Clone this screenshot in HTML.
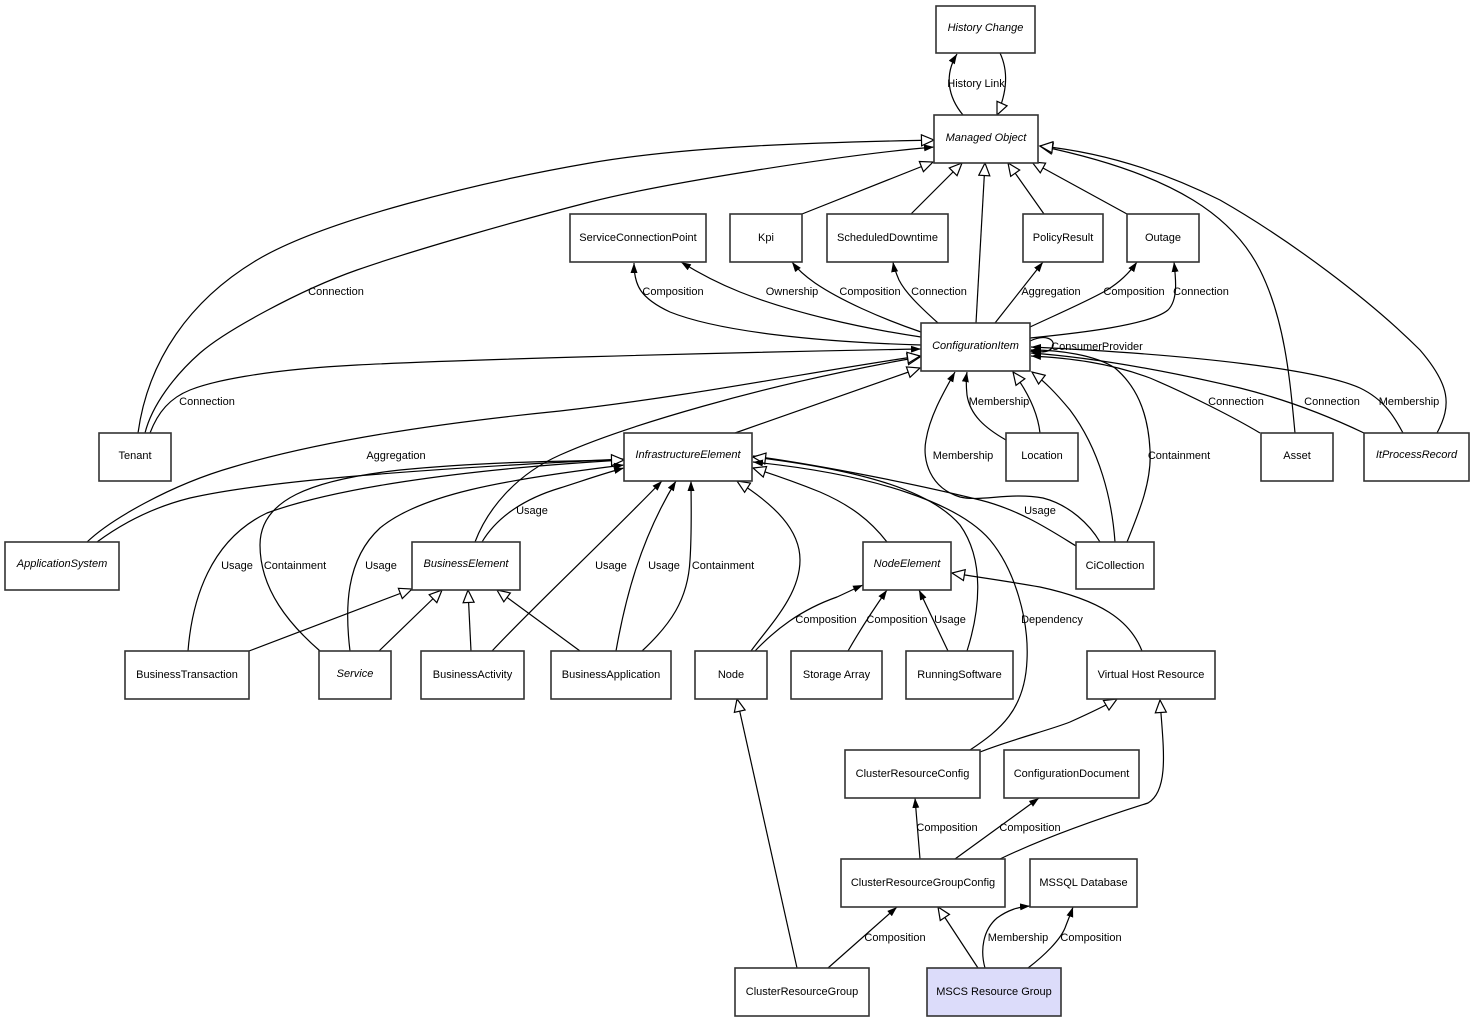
<!DOCTYPE html>
<html><head><meta charset="utf-8"><style>
html,body{margin:0;padding:0;background:#fff;}
svg{display:block;}
text{font-family:"Liberation Sans",Arial,sans-serif;font-size:11px;fill:#000;}
.e{fill:none;stroke:#000;stroke-width:1.2;}
.f{marker-end:url(#fa);}
.h{marker-end:url(#ha);}
.b{fill:#fff;stroke:#333;stroke-width:1.6;}
.i{font-style:italic;}
</style></head><body>
<svg width="1475" height="1023" viewBox="0 0 1475 1023" xmlns="http://www.w3.org/2000/svg">
<defs>
<marker id="fa" markerUnits="userSpaceOnUse" markerWidth="11" markerHeight="9" refX="10" refY="4.5" orient="auto"><path d="M0,1 L10,4.5 L0,8 z" fill="#000"/></marker>
<marker id="ha" markerUnits="userSpaceOnUse" markerWidth="15" markerHeight="13" refX="13.5" refY="6.5" orient="auto"><path d="M1,1 L13.5,6.5 L1,12 z" fill="#fff" stroke="#000" stroke-width="1.2"/></marker>
</defs>

<!-- edges -->
<path class="e f" d="M963,115 C948,97 944,75 957,54"/>
<path class="e h" d="M1000,53 C1008,70 1008,90 997,115"/>

<path class="e h" d="M138,433 C148,360 190,300 257,260 S480,182 590,163 S850,142 934,140"/>
<path class="e f" d="M145,433 C152,405 175,375 200,353 S300,290 357,270 S520,220 590,202 S840,155 934,147"/>
<path class="e f" d="M150,433 C158,412 170,398 190,390 S260,370 357,365 S700,353 921,349"/>

<path class="e h" d="M802,214 L933,162"/>
<path class="e h" d="M911,214 L962,163"/>
<path class="e h" d="M976,323 L985,163"/>
<path class="e h" d="M1044,214 L1008,163"/>
<path class="e h" d="M1127,214 L1032,162"/>
<path class="e h" d="M1295,433 C1290,380 1285,320 1260,270 S1180,175 1040,146"/>
<path class="e h" d="M1437,433 C1452,405 1450,385 1420,350 C1370,300 1290,240 1220,200 C1160,170 1100,152 1040,146"/>

<path class="e f" d="M921,345 C820,342 720,332 670,312 C640,298 634,285 634,263"/>
<path class="e f" d="M921,337 C860,328 790,312 740,292 C715,282 697,272 681,262"/>
<path class="e f" d="M921,332 C880,318 840,300 815,283 C805,276 798,270 792,262"/>
<path class="e f" d="M938,323 C918,305 905,292 899,280 C896,273 894,268 893,262"/>
<path class="e f" d="M995,323 L1043,262"/>
<path class="e f" d="M1030,327 C1060,313 1090,300 1107,290 C1120,282 1130,272 1137,262"/>
<path class="e f" d="M1030,338 C1080,333 1150,325 1168,310 C1178,300 1176,280 1174,262"/>
<path class="e f" d="M1030,341 C1045,334 1055,339 1053,346 C1051,352 1043,353 1030,351"/>

<path class="e f" d="M1127,542 C1140,510 1152,480 1150,450 C1148,410 1135,385 1115,368 C1095,355 1060,350 1031,350"/>
<path class="e f" d="M1260,433 C1235,418 1190,395 1150,378 C1110,363 1070,358 1031,356"/>
<path class="e f" d="M1364,433 C1320,412 1280,398 1240,388 C1180,374 1100,358 1031,353"/>
<path class="e f" d="M1403,433 C1395,418 1385,400 1360,388 C1320,370 1200,355 1031,347"/>

<path class="e f" d="M1006,440 C985,428 970,415 967,395 C966,385 966,378 967,372"/>
<path class="e h" d="M1040,433 C1038,415 1030,395 1013,372"/>
<path class="e h" d="M1115,542 C1112,500 1100,450 1070,410 C1055,392 1045,382 1032,372"/>
<path class="e f" d="M1100,542 C1090,525 1070,505 1043,498 C1010,492 980,502 960,497 C930,488 922,460 926,440 C930,415 945,390 955,372"/>
<path class="e f" d="M1076,546 C1050,530 1020,510 980,500 C920,485 820,465 753,456"/>

<path class="e h" d="M735,433 L920,368"/>
<path class="e h" d="M475,542 C487,510 515,475 560,455 C620,428 760,385 920,357"/>
<path class="e h" d="M87,542 C110,520 170,485 233,467 C300,447 400,427 560,411 C700,395 820,370 920,356"/>
<path class="e f" d="M97,542 C120,525 150,508 190,498 C260,482 400,470 624,459"/>
<path class="e f" d="M188,651 C192,600 210,540 267,513 C330,490 450,470 624,460"/>
<path class="e h" d="M320,651 C290,625 260,590 260,545 C260,500 310,480 400,470 C480,462 560,461 624,460"/>
<path class="e f" d="M350,651 C345,610 345,560 380,528 C420,495 500,480 624,465"/>
<path class="e f" d="M482,542 C495,520 520,500 560,488 C585,480 605,473 624,468"/>

<path class="e h" d="M249,651 L412,589"/>
<path class="e h" d="M379,651 L442,590"/>
<path class="e h" d="M471,651 L468,590"/>
<path class="e h" d="M580,651 L497,590"/>

<path class="e f" d="M492,651 C540,600 600,545 662,481"/>
<path class="e f" d="M616,651 C625,600 640,540 676,481"/>
<path class="e f" d="M642,651 C670,625 688,600 690,560 C692,530 691,500 691,481"/>
<path class="e h" d="M751,651 C770,625 800,595 800,560 C800,530 775,505 737,481"/>

<path class="e h" d="M887,542 C870,520 850,505 820,492 C795,482 775,475 753,468"/>
<path class="e h" d="M967,651 C980,610 985,560 960,525 C930,490 860,470 753,457"/>
<path class="e f" d="M970,750 C1000,730 1025,710 1027,660 C1029,620 1015,570 990,540 C960,505 880,475 753,462"/>

<path class="e f" d="M755,651 C775,630 800,610 837,597 C848,592 856,588 863,585"/>
<path class="e f" d="M848,651 C860,630 873,610 887,590"/>
<path class="e f" d="M948,651 L919,590"/>
<path class="e h" d="M1142,651 C1130,620 1100,600 1040,587 C1000,580 970,576 952,573"/>

<path class="e h" d="M980,752 C1010,740 1050,730 1070,722 C1090,713 1105,706 1117,699"/>
<path class="e h" d="M1000,859 C1050,835 1110,815 1148,803 C1170,790 1163,745 1160,700"/>
<path class="e f" d="M920,859 L915,798"/>
<path class="e f" d="M955,859 L1039,798"/>
<path class="e h" d="M797,968 L737,699"/>
<path class="e f" d="M828,968 L897,907"/>
<path class="e h" d="M978,968 L938,907"/>
<path class="e f" d="M985,968 C980,950 983,930 997,918 C1008,910 1018,907 1030,906"/>
<path class="e f" d="M1028,968 C1045,955 1060,940 1065,928 C1068,920 1071,913 1073,907"/>

<!-- edge labels -->
<g text-anchor="middle">
<text x="976" y="87">History Link</text>
<text x="336" y="295">Connection</text>
<text x="207" y="405">Connection</text>
<text x="673" y="295">Composition</text>
<text x="792" y="295">Ownership</text>
<text x="870" y="295">Composition</text>
<text x="939" y="295">Connection</text>
<text x="1051" y="295">Aggregation</text>
<text x="1134" y="295">Composition</text>
<text x="1201" y="295">Connection</text>
<text x="1097" y="350">ConsumerProvider</text>
<text x="999" y="405">Membership</text>
<text x="1236" y="405">Connection</text>
<text x="1332" y="405">Connection</text>
<text x="1409" y="405">Membership</text>
<text x="396" y="459">Aggregation</text>
<text x="963" y="459">Membership</text>
<text x="1179" y="459">Containment</text>
<text x="532" y="514">Usage</text>
<text x="1040" y="514">Usage</text>
<text x="237" y="569">Usage</text>
<text x="295" y="569">Containment</text>
<text x="381" y="569">Usage</text>
<text x="611" y="569">Usage</text>
<text x="664" y="569">Usage</text>
<text x="723" y="569">Containment</text>
<text x="826" y="623">Composition</text>
<text x="897" y="623">Composition</text>
<text x="950" y="623">Usage</text>
<text x="1052" y="623">Dependency</text>
<text x="947" y="831">Composition</text>
<text x="1030" y="831">Composition</text>
<text x="895" y="941">Composition</text>
<text x="1018" y="941">Membership</text>
<text x="1091" y="941">Composition</text>
</g>

<!-- boxes -->
<rect class="b" x="936" y="6" width="99" height="47"/>
<rect class="b" x="934" y="115" width="104" height="48"/>
<rect class="b" x="570" y="214" width="136" height="48"/>
<rect class="b" x="730" y="214" width="72" height="48"/>
<rect class="b" x="827" y="214" width="121" height="48"/>
<rect class="b" x="1023" y="214" width="80" height="48"/>
<rect class="b" x="1127" y="214" width="72" height="48"/>
<rect class="b" x="921" y="323" width="109" height="48"/>
<rect class="b" x="99" y="433" width="72" height="48"/>
<rect class="b" x="624" y="433" width="128" height="48"/>
<rect class="b" x="1006" y="433" width="72" height="48"/>
<rect class="b" x="1261" y="433" width="72" height="48"/>
<rect class="b" x="1364" y="433" width="105" height="48"/>
<rect class="b" x="1076" y="542" width="78" height="47"/>
<rect class="b" x="5" y="542" width="114" height="48"/>
<rect class="b" x="412" y="542" width="108" height="48"/>
<rect class="b" x="863" y="542" width="88" height="48"/>
<rect class="b" x="125" y="651" width="124" height="48"/>
<rect class="b" x="319" y="651" width="72" height="48"/>
<rect class="b" x="421" y="651" width="103" height="48"/>
<rect class="b" x="551" y="651" width="120" height="48"/>
<rect class="b" x="695" y="651" width="72" height="48"/>
<rect class="b" x="791" y="651" width="91" height="48"/>
<rect class="b" x="906" y="651" width="107" height="48"/>
<rect class="b" x="1087" y="651" width="128" height="48"/>
<rect class="b" x="845" y="750" width="135" height="48"/>
<rect class="b" x="1004" y="750" width="135" height="48"/>
<rect class="b" x="841" y="859" width="164" height="48"/>
<rect class="b" x="1030" y="859" width="107" height="48"/>
<rect class="b" x="735" y="968" width="134" height="48"/>
<rect class="b" x="927" y="968" width="134" height="48" style="fill:#dcdcfa"/>

<g text-anchor="middle">
<text class="i" x="985.5" y="31">History Change</text>
<text class="i" x="986" y="141">Managed Object</text>
<text x="638" y="241">ServiceConnectionPoint</text>
<text x="766" y="241">Kpi</text>
<text x="887.5" y="241">ScheduledDowntime</text>
<text x="1063" y="241">PolicyResult</text>
<text x="1163" y="241">Outage</text>
<text class="i" x="975.5" y="349">ConfigurationItem</text>
<text x="135" y="459">Tenant</text>
<text class="i" x="688" y="458">InfrastructureElement</text>
<text x="1042" y="459">Location</text>
<text x="1297" y="459">Asset</text>
<text class="i" x="1416.5" y="458">ItProcessRecord</text>
<text x="1115" y="569">CiCollection</text>
<text class="i" x="62" y="567">ApplicationSystem</text>
<text class="i" x="466" y="567">BusinessElement</text>
<text class="i" x="907" y="567">NodeElement</text>
<text x="187" y="678">BusinessTransaction</text>
<text class="i" x="355" y="677">Service</text>
<text x="472.5" y="678">BusinessActivity</text>
<text x="611" y="678">BusinessApplication</text>
<text x="731" y="678">Node</text>
<text x="836.5" y="678">Storage Array</text>
<text x="959.5" y="678">RunningSoftware</text>
<text x="1151" y="678">Virtual Host Resource</text>
<text x="912.5" y="777">ClusterResourceConfig</text>
<text x="1071.5" y="777">ConfigurationDocument</text>
<text x="923" y="886">ClusterResourceGroupConfig</text>
<text x="1083.5" y="886">MSSQL Database</text>
<text x="802" y="995">ClusterResourceGroup</text>
<text x="994" y="995">MSCS Resource Group</text>
</g>
</svg>
</body></html>
